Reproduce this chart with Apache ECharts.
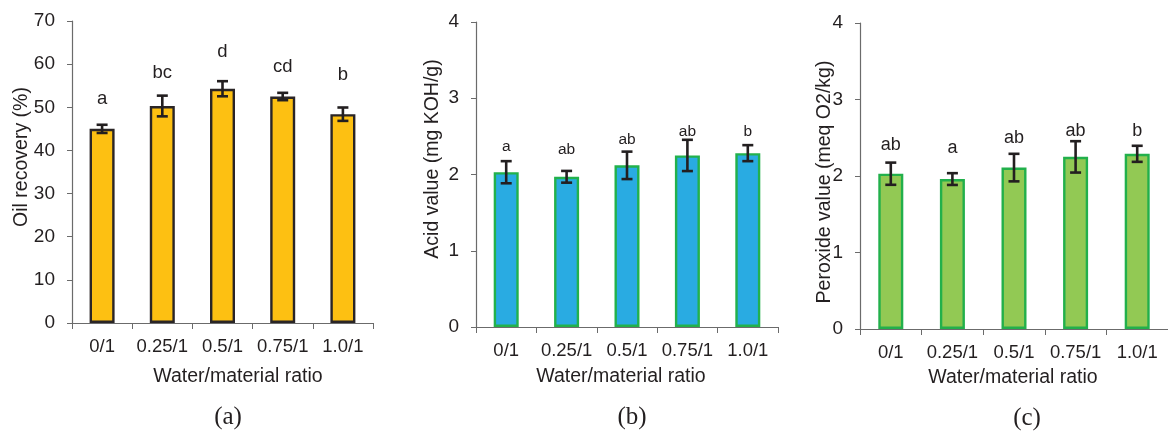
<!DOCTYPE html>
<html><head><meta charset="utf-8">
<script src="https://cdn.jsdelivr.net/npm/echarts@6/dist/echarts.min.js"></script>
<style>html,body{margin:0;padding:0;background:#fff}#c{width:1168px;height:431px}</style>
</head><body><div id="c"></div>
<script>
const categories = ['0/1', '0.25/1', '0.5/1', '0.75/1', '1.0/1'];
const oilRecovery = [45.0, 50.3, 54.3, 52.5, 48.4];
const oilErr = [0.95, 2.4, 1.75, 0.85, 1.55];
const oilLetters = ['a', 'bc', 'd', 'cd', 'b'];
const oilLetterY = [51.9, 57.9, 62.8, 59.3, 57.5];
const acidValue = [2.03, 1.97, 2.12, 2.25, 2.28];
const acidErr = [0.145, 0.077, 0.18, 0.205, 0.105];
const acidLetters = ['a', 'ab', 'ab', 'ab', 'b'];
const acidLetterY = [2.37, 2.33, 2.46, 2.56, 2.56];
const peroxValue = [2.03, 1.96, 2.11, 2.25, 2.29];
const peroxErr = [0.145, 0.077, 0.18, 0.205, 0.105];
const peroxLetters = ['ab', 'a', 'ab', 'ab', 'b'];
const peroxLetterY = [2.41, 2.37, 2.50, 2.59, 2.59];
const panelTitles = ['Oil recovery (%)', 'Acid value (mg KOH/g)', 'Peroxide value (meq O2/kg)'];
const xTitle = 'Water/material ratio';
const captions = ['(a)', '(b)', '(c)'];

const SANS = '"Liberation Sans", Arial, sans-serif';
const SERIF = '"Liberation Serif", "Times New Roman", serif';
const TXT = '#231F20';
const AX = '#6b6b6b';

const grids = [
  {left: 72, top: 21, width: 301, height: 302},
  {left: 476, top: 22, width: 302, height: 305},
  {left: 860, top: 23, width: 315, height: 306}
];
const yRanges = [{max: 70, interval: 10}, {max: 4, interval: 1}, {max: 4, interval: 1}];
const panels = [
  {v: oilRecovery, e: oilErr, l: oilLetters, ly: oilLetterY, fill: '#FDC012', border: '#2a2526', lf: 18.5},
  {v: acidValue, e: acidErr, l: acidLetters, ly: acidLetterY, fill: '#29ABE2', border: '#22B14C', lf: 15.5},
  {v: peroxValue, e: peroxErr, l: peroxLetters, ly: peroxLetterY, fill: '#92C954', border: '#22B04B', lf: 18}
];

const xAxes = grids.map((g, i) => ({
  type: 'category', gridIndex: i, data: categories,
  axisLine: {lineStyle: {color: AX, width: 1.2}},
  axisTick: {show: true, length: 6, interval: 0, lineStyle: {color: AX}},
  axisLabel: {color: TXT, fontFamily: SANS, fontSize: 18.5, margin: 14, interval: 0}
}));
const yAxes = grids.map((g, i) => ({
  type: 'value', gridIndex: i, min: 0, max: yRanges[i].max, interval: yRanges[i].interval,
  splitLine: {show: false},
  axisLine: {show: true, lineStyle: {color: AX, width: 1.2}},
  axisTick: {show: true, length: 5, lineStyle: {color: AX}},
  axisLabel: {color: TXT, fontFamily: SANS, fontSize: 19, margin: 17}
}));

const series = [];
panels.forEach((p, i) => {
  series.push({
    type: 'bar', xAxisIndex: i, yAxisIndex: i, data: p.v, barWidth: 25,
    itemStyle: {color: p.fill, borderColor: p.border, borderWidth: 2.4},
    z: 2, silent: true
  });
  series.push({
    type: 'custom', xAxisIndex: i, yAxisIndex: i, z: 5, silent: true,
    data: p.v.map((v, k) => [k, v - p.e[k], v + p.e[k]]),
    renderItem: function (params, api) {
      const lo = api.coord([api.value(0), api.value(1)]);
      const hi = api.coord([api.value(0), api.value(2)]);
      const hw = 5.5;
      const st = {stroke: '#231F20', lineWidth: 2.6};
      return {type: 'group', children: [
        {type: 'line', shape: {x1: hi[0], y1: hi[1], x2: lo[0], y2: lo[1]}, style: st},
        {type: 'line', shape: {x1: hi[0] - hw, y1: hi[1], x2: hi[0] + hw, y2: hi[1]}, style: st},
        {type: 'line', shape: {x1: lo[0] - hw, y1: lo[1], x2: lo[0] + hw, y2: lo[1]}, style: st}
      ]};
    }
  });
  series.push({
    type: 'custom', xAxisIndex: i, yAxisIndex: i, z: 6, silent: true,
    data: p.ly.map((y, k) => [k, y]),
    renderItem: function (params, api) {
      const c = api.coord([api.value(0), api.value(1)]);
      return {type: 'text', x: c[0], y: c[1],
        style: {text: p.l[params.dataIndex], fill: TXT, font: p.lf + 'px ' + SANS,
          textAlign: 'center', textVerticalAlign: 'middle'}};
    }
  });
});

const yTitlePos = [[22, 157], [433, 159], [825, 182]];
const xTitlePos = [[238, 377], [621, 377], [1013, 378]];
const capPos = [[228, 417], [632, 417], [1027, 418]];
const graphic = [];
for (let i = 0; i < 3; i++) {
  graphic.push({type: 'text', x: yTitlePos[i][0], y: yTitlePos[i][1], rotation: Math.PI / 2,
    style: {text: panelTitles[i], fill: TXT, font: '19.5px ' + SANS, textAlign: 'center', textVerticalAlign: 'middle'}});
  graphic.push({type: 'text', x: xTitlePos[i][0], y: xTitlePos[i][1],
    style: {text: xTitle, fill: TXT, font: '19.5px ' + SANS, textAlign: 'center', textVerticalAlign: 'middle'}});
  graphic.push({type: 'text', x: capPos[i][0], y: capPos[i][1],
    style: {text: captions[i], fill: TXT, font: '25px ' + SERIF, textAlign: 'center', textVerticalAlign: 'middle'}});
}

const chart = echarts.init(document.getElementById('c'), null, {renderer: 'canvas'});
chart.setOption({
  animation: false, backgroundColor: '#fff',
  grid: grids, xAxis: xAxes, yAxis: yAxes, series: series, graphic: graphic
});
</script></body></html>
